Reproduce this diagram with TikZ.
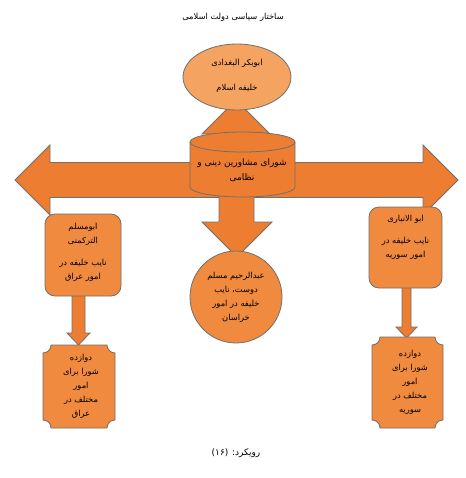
\documentclass[tikz,border=0pt]{standalone}
\usepackage{fontspec}
\newfontfamily\arabicfont[Script=Arabic]{DejaVu Sans}
\TeXXeTstate=1
\usetikzlibrary{shapes.geometric}
\newcommand{\fa}[1]{\beginR #1\endR}
\definecolor{orangefill}{HTML}{ED7D31}
\definecolor{orangelight}{HTML}{F4A460}
\definecolor{orangebox}{HTML}{F08A3E}
\definecolor{edgegray}{HTML}{6F6F6F}
\tikzset{
  shp/.style={draw=edgegray, line width=0.8pt, fill=orangefill},
  boxshp/.style={draw=edgegray, line width=0.8pt, fill=orangebox},
  txt/.style={font=\arabicfont\fontsize{8.3}{14}\selectfont, align=center, inner sep=0pt},
}
\begin{document}
\begin{tikzpicture}[x=1pt,y=-1pt]
\useasboundingbox (0,0) rectangle (465,478);
% title
\node[txt] (title) at (233,17) {\fa{ساختار سیاسی دولت اسلامی}};
% block arrows
\draw[shp] (15,180) -- (50,145) -- (50,162.5) -- (423,162.5) -- (423,145) -- (458,180)
  -- (423,215) -- (423,197.5) -- (50,197.5) -- (50,215) -- cycle;
\draw[shp] (236,100) -- (270,134) -- (255,134) -- (255,150) -- (218,150) -- (218,134) -- (202,134) -- cycle;
\draw[shp] (219,190) -- (254,190) -- (254,222) -- (272,222) -- (237,257) -- (202,222) -- (219,222) -- cycle;
\draw[shp] (72,290) -- (85,290) -- (85,333) -- (90,333) -- (78.5,345) -- (67,333) -- (72,333) -- cycle;
\draw[shp] (402,280) -- (411,280) -- (411,327) -- (417,327) -- (406.5,338) -- (396,327) -- (402,327) -- cycle;
% council cylinder
\draw[shp] (190,142) -- (190,187) arc[start angle=180, end angle=0, x radius=52.5, y radius=10]
  -- (295,142) arc[start angle=0, end angle=-180, x radius=52.5, y radius=10] -- cycle;
\draw[draw=edgegray, line width=0.8pt] (190,142) arc[start angle=180, end angle=0, x radius=52.5, y radius=10];
\node[txt, font=\arabicfont\fontsize{9}{15}\selectfont] (shura) at (242,170) {\fa{شورای مشاورین دینی و}\\\fa{نظامی}};
% caliph
\node[ellipse, draw=edgegray, line width=0.8pt, fill=orangelight, minimum width=108pt, minimum height=66pt] (khalifa) at (237,77) {};
\node[txt] (khalifatxt) at (237,76) {\fa{ابوبکر البغدادی}\\[11pt]\fa{خلیفه اسلام}};
% khorasan
\node[circle, boxshp, minimum size=92pt] (khorasan) at (236,297) {};
\node[txt] (khorasantxt) at (236,297) {\fa{عبدالرحیم مسلم}\\\fa{دوست، نایب}\\\fa{خلیفه در امور}\\\fa{خراسان}};
% iraq
\node[boxshp, rounded corners=10pt, minimum width=76pt, minimum height=82pt] (iraq) at (83,255) {};
\node[txt] (iraqtxt) at (83,252) {\fa{ابومسلم}\\\fa{الترکمنی}\\[8pt]\fa{نایب خلیفه در}\\\fa{امور  عراق}};
% syria
\node[boxshp, rounded corners=10pt, minimum width=73pt, minimum height=81pt] (syria) at (405.5,247.5) {};
\node[txt] (syriatxt) at (405.5,237) {\fa{ابو الانباری}\\[8pt]\fa{نایب خلیفه در}\\\fa{امور سوریه}};
% councils
\draw[boxshp] (51,345) -- (107,345) arc[start angle=180, end angle=90, radius=8]
  -- (115,420) arc[start angle=270, end angle=180, radius=8]
  -- (51,428) arc[start angle=0, end angle=-90, radius=8]
  -- (43,353) arc[start angle=90, end angle=0, radius=8] -- cycle;
\node[txt] (iraqcouncil) at (81,386) {\fa{دوازده}\\\fa{شورا برای}\\\fa{امور}\\\fa{مختلف در}\\\fa{عراق}};
\draw[boxshp] (380,337) -- (435,337) arc[start angle=180, end angle=90, radius=8]
  -- (443,420) arc[start angle=270, end angle=180, radius=8]
  -- (380,428) arc[start angle=0, end angle=-90, radius=8]
  -- (372,345) arc[start angle=90, end angle=0, radius=8] -- cycle;
\node[txt] (syriacouncil) at (410,382) {\fa{دوازده}\\\fa{شورا برای}\\\fa{امور}\\\fa{مختلف در}\\\fa{سوریه}};
% caption
\node[txt, font=\arabicfont\fontsize{9}{12}\selectfont] (caption) at (236,453) {\fa{رویکرد: (\beginL ۱۶\endL)}};
\end{tikzpicture}
\end{document}
